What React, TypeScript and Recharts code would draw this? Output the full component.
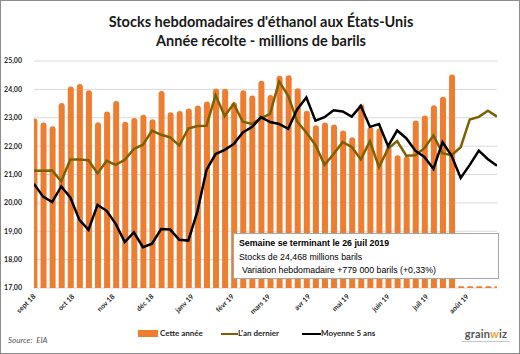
import { Bar, CartesianGrid, ComposedChart, Line, XAxis, YAxis } from "recharts";

// stocks hebdomadaires, millions de barils (sept 2018 -> août 2019)
const cetteAnnee = [
  22.97, 22.83, 22.7, 23.52, 24.1, 24.19, 23.97, 22.84, 23.22, 23.59, 22.86, 22.99, 23.11,
  22.95, 23.94, 23.19, 23.24, 23.33, 23.43, 23.57, 24.03, 24.02, 23.55, 23.97, 23.78, 24.3,
  23.8, 24.48, 24.5, 24.04, 23.25, 22.74, 22.83, 22.76, 22.55, 22.31, 23.48, 22.67, 22.62,
  21.98, 21.68, 21.63, 22.9, 23.08, 23.44, 23.74, 24.52, 17.06, 17.06, 17.06, 17.06, 17.06
];

const anDernier = [
  21.13, 21.13, 21.14, 20.76, 21.53, 21.53, 21.5, 21.04, 21.48, 21.34, 21.52, 21.9, 22.05,
  22.55, 22.4, 22.31, 22.02, 22.62, 22.71, 22.72, 23.8, 23.06, 23.49, 22.86, 22.78, 22.98,
  23.14, 24.28, 23.77, 22.86, 22.48, 22.04, 21.34, 21.72, 22.14, 21.97, 21.53, 22.17, 21.26,
  21.91, 22.18, 21.66, 21.68, 21.93, 22.38, 21.75, 21.68, 21.96, 22.94, 23.03, 23.25, 23.04
];

const moyenne5Ans = [
  20.67, 20.22, 20.03, 20.58, 20.19, 19.4, 19.05, 19.93, 19.72, 19.26, 18.62, 18.96, 18.44,
  18.56, 19.08, 19.06, 18.7, 18.67, 19.7, 21.16, 21.72, 21.87, 22.07, 22.48, 22.67, 23.02,
  22.85, 22.78, 22.61, 23.3, 23.71, 22.9, 23.02, 23.26, 23.22, 23.04, 23.42, 22.68, 22.78,
  22.0, 22.55, 22.28, 21.84, 21.62, 21.2, 22.14, 21.66, 20.88, 21.34, 21.84, 21.54, 21.31
];

const monthLabels = [
  "sept 18", "oct 18", "nov 18", "déc 18", "janv 19", "févr 19",
  "mars 19", "avr 19", "mai 19", "juin 19", "juil 19", "août 19"
];

const yTicks = [17, 18, 19, 20, 21, 22, 23, 24, 25];

const DAY = 86400000;
const firstWeek = Date.UTC(2018, 8, 7);

const data = cetteAnnee.map((v, i) => ({
  date: firstWeek + i * 7 * DAY,
  cette: v,
  dernier: anDernier[i],
  moyenne: moyenne5Ans[i]
}));

const monthTicks = monthLabels.map((_, k) => Date.UTC(2018, 8 + k, 7));

const font = "Lato, 'Open Sans', sans-serif";

function MonthTick(props: any) {
  const { x, y, payload } = props;
  const label = monthLabels[monthTicks.indexOf(payload.value)];
  return (
    <text
      transform={`translate(${x + 2},${y + 9}) rotate(-45)`}
      textAnchor="end"
      fontSize={7}
      fontWeight="bold"
      fill="#262626"
      fontFamily={font}
    >
      {label}
    </text>
  );
}

export default function App() {
  return (
    <div
      style={{
        position: "absolute",
        left: 0,
        top: 0,
        width: 520,
        height: 354,
        boxSizing: "border-box",
        border: "1px solid #8c8c8c",
        background: "#fff",
        fontFamily: font
      }}
    >
      <div
        style={{
          position: "absolute",
          left: 0,
          top: 11,
          width: 520,
          textAlign: "center",
          fontSize: 14.5,
          fontWeight: 700,
          lineHeight: "19px",
          color: "#1a1a1a"
        }}
      >
        Stocks hebdomadaires d'éthanol aux États-Unis
        <br />
        Année récolte - millions de barils
      </div>

      <div style={{ position: "absolute", left: -1, top: -1 }}>
        <ComposedChart
          width={520}
          height={354}
          data={data}
          margin={{ top: 61, right: 23, bottom: 36, left: 0 }}
        >
          <CartesianGrid vertical={false} stroke="#d9d9d9" />
          <XAxis
            dataKey="date"
            type="number"
            scale="linear"
            domain={[firstWeek, firstWeek + 51 * 7 * DAY]}
            ticks={monthTicks}
            allowDataOverflow
            tick={<MonthTick />}
            tickLine={false}
            tickSize={0}
            tickMargin={0}
            axisLine={false}
            height={30}
            interval={0}
          />
          <YAxis
            domain={[17, 25]}
            ticks={yTicks}
            width={34}
            axisLine={false}
            tickLine={false}
            tickMargin={6}
            tickFormatter={(v: number) => v.toFixed(2).replace(".", ",")}
            tick={{ fontSize: 7, fontWeight: "bold", fill: "#262626", fontFamily: font }}
          />
          <Bar
            dataKey="cette"
            fill="#ED7D31"
            barSize={6}
            radius={[3, 3, 0, 0]}
            isAnimationActive={false}
          />
          <Line
            dataKey="dernier"
            type="linear"
            stroke="#7F6000"
            strokeWidth={2.5}
            dot={false}
            isAnimationActive={false}
          />
          <Line
            dataKey="moyenne"
            type="linear"
            stroke="#000000"
            strokeWidth={2.5}
            dot={false}
            isAnimationActive={false}
          />
        </ComposedChart>
      </div>

      <div
        style={{
          position: "absolute",
          left: 232,
          top: 232,
          width: 266,
          height: 46,
          boxSizing: "border-box",
          border: "1px solid #a6a6a6",
          background: "#fff",
          fontFamily: "'Liberation Sans', Arial, sans-serif",
          fontSize: 8.8,
          lineHeight: "13.5px",
          color: "#000",
          padding: "3px 0 0 5px"
        }}
      >
        <div style={{ fontWeight: "bold" }}>Semaine se terminant le 26 juil 2019</div>
        <div>Stocks de 24,468 millions barils</div>
        <div style={{ paddingLeft: 3 }}>Variation hebdomadaire +779 000 barils (+0,33%)</div>
      </div>

      <div style={{ position: "absolute", left: 0, top: 327, fontSize: 8, fontWeight: 700, color: "#262626" }}>
        <div style={{ position: "absolute", left: 137, top: 2, width: 20, height: 7, background: "#ED7D31" }} />
        <div style={{ position: "absolute", left: 159, top: 0, whiteSpace: "nowrap" }}>Cette année</div>
        <div style={{ position: "absolute", left: 220, top: 5, width: 17, height: 2, background: "#7F6000" }} />
        <div style={{ position: "absolute", left: 237, top: 0, whiteSpace: "nowrap" }}>L'an dernier</div>
        <div style={{ position: "absolute", left: 301, top: 5, width: 19, height: 2, background: "#000" }} />
        <div style={{ position: "absolute", left: 320, top: 0, whiteSpace: "nowrap" }}>Moyenne 5 ans</div>
      </div>

      <div
        style={{
          position: "absolute",
          left: 7,
          top: 334,
          fontSize: 8,
          fontStyle: "italic",
          color: "#595959"
        }}
      >
        Source:&nbsp; EIA
      </div>

      <div style={{ position: "absolute", left: 458, top: 327, width: 54, textAlign: "center" }}>
        <div style={{ fontSize: 11, fontWeight: 700, color: "#555", letterSpacing: 0.2, lineHeight: "12px" }}>
          grain<span style={{ color: "#E9A23B" }}>w</span>iz
        </div>
        <div style={{ height: 1, margin: "1px 3px 0", background: "#c8c8c8" }} />
      </div>
    </div>
  );
}
